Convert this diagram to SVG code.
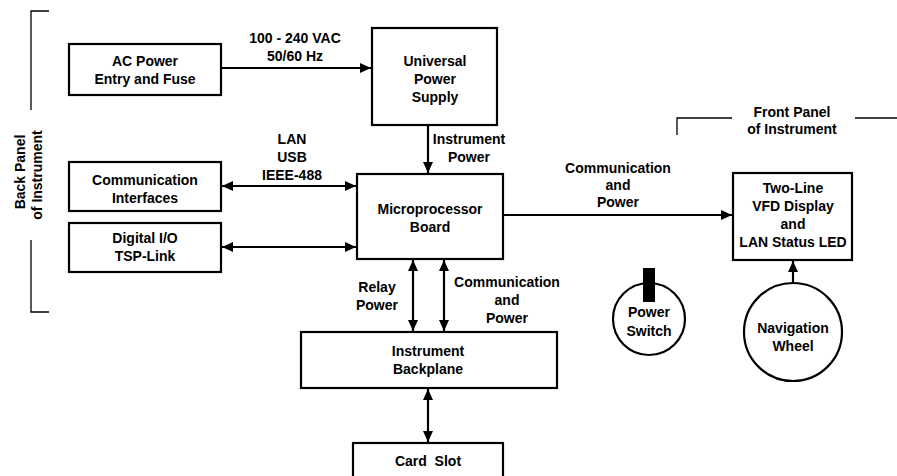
<svg xmlns="http://www.w3.org/2000/svg" width="897" height="476" viewBox="0 0 897 476">
<defs>
<style>
.b{fill:#fff;stroke:#000;stroke-width:2.2}
.t{font-family:"Liberation Sans",Arial,sans-serif;font-size:14px;font-weight:bold;fill:#000;text-anchor:middle}
.c{fill:none;stroke:#000;stroke-width:2.2}
.br{fill:none;stroke:#000;stroke-width:1.3}
</style>
<marker id="ae" viewBox="0 0 11 10" refX="11" refY="5" markerWidth="11" markerHeight="10" markerUnits="userSpaceOnUse" orient="auto-start-reverse"><path d="M0,0 L11,5 L0,10 z" fill="#000"/></marker>
</defs>
<rect width="897" height="476" fill="#fff"/>
<g id="brackets">
<path class="br" d="M49,11 H31 V110 M31,240 V312 H49"/>
<path class="br" d="M677,135 V118 H732 M855,118 H897"/>
<text class="t" transform="translate(25,172) rotate(-90)">Back Panel</text>
<text class="t" transform="translate(42,175) rotate(-90)">of  Instrument</text>
<text class="t" x="792" y="117">Front Panel</text>
<text class="t" x="792" y="134">of Instrument</text>
</g>
<g id="connectors">
<line class="c" x1="221" y1="68" x2="371" y2="68" marker-end="url(#ae)"/>
<line class="c" x1="428" y1="125" x2="428" y2="173" marker-end="url(#ae)"/>
<line class="c" x1="222" y1="186" x2="356" y2="186" marker-start="url(#ae)" marker-end="url(#ae)"/>
<line class="c" x1="222" y1="247" x2="356" y2="247" marker-start="url(#ae)" marker-end="url(#ae)"/>
<line class="c" x1="413" y1="260" x2="413" y2="331" marker-start="url(#ae)" marker-end="url(#ae)"/>
<line class="c" x1="444" y1="260" x2="444" y2="331" marker-start="url(#ae)" marker-end="url(#ae)"/>
<line class="c" x1="428" y1="389" x2="428" y2="442" marker-start="url(#ae)" marker-end="url(#ae)"/>
<line class="c" x1="503" y1="215" x2="732" y2="215" marker-end="url(#ae)"/>
<line class="c" x1="793" y1="283" x2="793" y2="261" marker-end="url(#ae)"/>
<text class="t" x="295" y="43">100 - 240 VAC</text>
<text class="t" x="295" y="61">50/60 Hz</text>
<text class="t" x="469" y="144">Instrument</text>
<text class="t" x="469" y="162">Power</text>
<text class="t" x="292" y="144">LAN</text>
<text class="t" x="292" y="162">USB</text>
<text class="t" x="292" y="180">IEEE-488</text>
<text class="t" x="377" y="292">Relay</text>
<text class="t" x="377" y="310">Power</text>
<text class="t" x="507" y="287">Communication</text>
<text class="t" x="507" y="305">and</text>
<text class="t" x="507" y="323">Power</text>
<text class="t" x="618" y="173">Communication</text>
<text class="t" x="618" y="190">and</text>
<text class="t" x="618" y="207">Power</text>
</g>
<g id="ac-power">
<rect class="b" x="69" y="44" width="152" height="51"/>
<text class="t" x="145" y="66">AC Power</text>
<text class="t" x="145" y="84">Entry and Fuse</text>
</g>
<g id="power-supply">
<rect class="b" x="372" y="28" width="125" height="97"/>
<text class="t" x="435" y="66">Universal</text>
<text class="t" x="435" y="84">Power</text>
<text class="t" x="435" y="102">Supply</text>
</g>
<g id="comm-interfaces">
<rect class="b" x="69" y="162" width="152" height="49"/>
<text class="t" x="145" y="185">Communication</text>
<text class="t" x="145" y="203">Interfaces</text>
</g>
<g id="digital-io">
<rect class="b" x="69" y="223" width="152" height="49"/>
<text class="t" x="145" y="243">Digital I/O</text>
<text class="t" x="145" y="261">TSP-Link</text>
</g>
<g id="microprocessor">
<rect class="b" x="357" y="174" width="146" height="85"/>
<text class="t" x="430" y="214">Microprocessor</text>
<text class="t" x="430" y="232">Board</text>
</g>
<g id="backplane">
<rect class="b" x="301" y="332" width="256" height="56"/>
<text class="t" x="428" y="356">Instrument</text>
<text class="t" x="428" y="374">Backplane</text>
</g>
<g id="card-slot">
<rect class="b" x="353" y="443" width="150" height="45"/>
<text class="t" x="428" y="466" xml:space="preserve">Card  Slot</text>
</g>
<g id="display">
<rect class="b" x="733" y="173" width="119" height="87"/>
<text class="t" x="793" y="193">Two-Line</text>
<text class="t" x="793" y="211">VFD Display</text>
<text class="t" x="793" y="229">and</text>
<text class="t" x="793" y="247">LAN Status LED</text>
</g>
<g id="power-switch">
<circle class="b" cx="649" cy="319" r="36"/>
<rect x="643" y="268" width="12" height="34" fill="#000"/>
<text class="t" x="649" y="317">Power</text>
<text class="t" x="649" y="336">Switch</text>
</g>
<g id="navigation-wheel">
<circle class="b" cx="793" cy="332" r="49"/>
<text class="t" x="793" y="333">Navigation</text>
<text class="t" x="793" y="351">Wheel</text>
</g>
</svg>
